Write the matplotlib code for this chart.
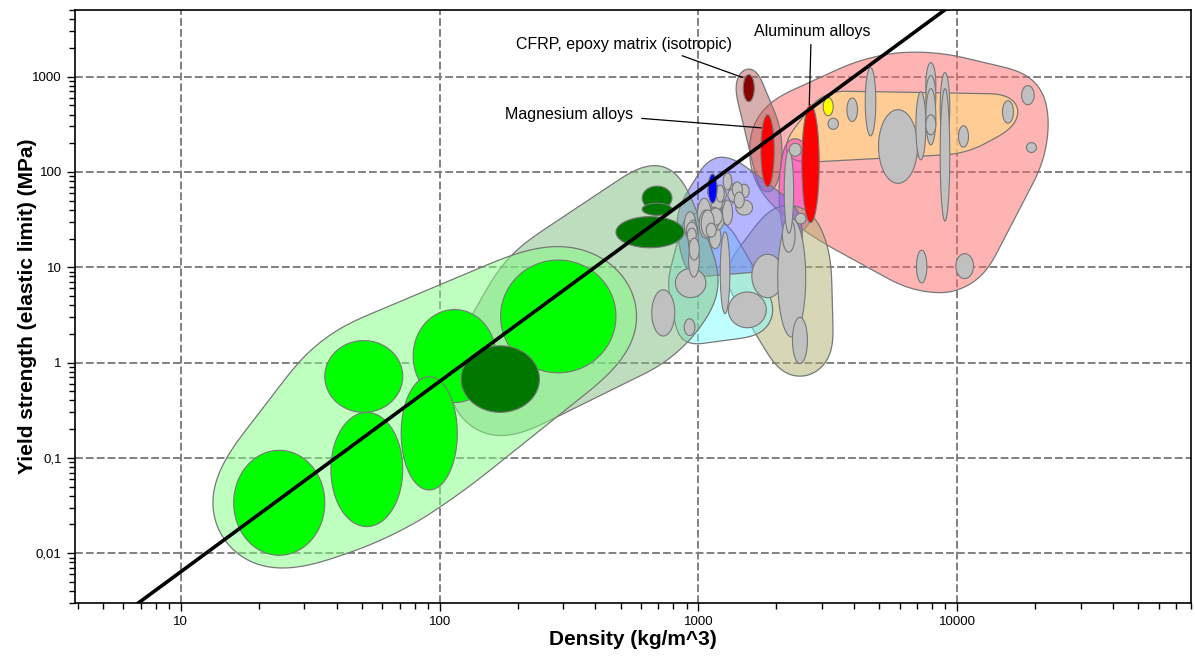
import numpy as np
import matplotlib.pyplot as plt
from matplotlib.colors import to_rgba
from matplotlib.ticker import LogLocator, NullFormatter

plt.rcParams['font.family'] = ['Liberation Sans', 'DejaVu Sans']

# each bubble: (density low, density high [kg/m^3], strength low, strength high [MPa])
foams = [(16, 36, 0.0095, 0.12), (36, 72, 0.30, 1.7), (38, 72, 0.019, 0.30),
         (79, 165, 0.38, 3.6), (71, 117, 0.046, 0.71), (172, 480, 0.78, 11.9)]
natural = [(121, 243, 0.30, 1.5), (480, 880, 16, 34), (606, 790, 40, 71),
           (606, 790, 35, 47)]
natural_grey = [(660, 810, 1.9, 5.8)]
polymers = [(992, 1118, 25.5, 52.9), (1101, 1221, 15.7, 27.7), (1101, 1258, 24.5, 41.8),
            (1239, 1354, 27.7, 50.7), (1247, 1345, 64.7, 97.5), (1315, 1458, 46.8, 76.0),
            (1395, 1618, 35.3, 50.7), (1130, 1258, 40.1, 55.5), (1084, 1222, 51.4, 73.8),
            (1438, 1571, 53.6, 74.2), (881, 977, 20.0, 38.2), (913, 998, 13.1, 31.3),
            (916, 1007, 7.9, 17.8), (1299, 1477, 48.3, 67.9), (1151, 1281, 48.3, 67.9),
            (1120, 1236, 39.8, 53.2), (1007, 1130, 20.2, 39.8), (897, 989, 19.2, 29.8),
            (1101, 1203, 24.5, 42.8), (1351, 1477, 54.6, 78.5), (1375, 1503, 41.8, 61.5),
            (1171, 1258, 48.3, 72.9), (1101, 1236, 27.7, 41.8), (1025, 1151, 20.7, 39.8),
            (1072, 1171, 20.7, 29.0), (905, 980, 18.3, 25.7), (921, 1007, 11.9, 20.2)]
pmma = (1090, 1180, 47, 95)
elastomers = [(814, 1068, 4.8, 9.7), (881, 969, 1.92, 2.88), (1214, 1322, 3.26, 23.5),
              (1304, 1828, 2.32, 5.5)]
porous_ceramics = [(1608, 2126, 4.79, 13.7), (2024, 2597, 1.85, 32.4),
                   (2111, 2361, 14.4, 32.8), (2308, 2637, 0.976, 2.98)]
glasses = [(2145, 2332, 22.8, 171), (2243, 2495, 146, 200), (2370, 2603, 28.5, 36.8)]
metals = [(4410, 4845, 239, 1244), (3747, 4118, 338, 597), (3167, 3474, 280, 366),
          (4963, 7020, 75.9, 450), (6920, 7560, 134, 695), (7560, 8265, 483, 1404),
          (7560, 8265, 353, 1025), (7560, 8265, 192, 748), (7560, 8265, 245, 398),
          (8590, 9355, 202, 1102), (8590, 9355, 30.5, 748), (10110, 11050, 182, 305),
          (14950, 16490, 325, 559), (17720, 19820, 507, 804), (18510, 20230, 160, 203),
          (6957, 7630, 6.85, 15.1), (9877, 11550, 7.6, 13.9)]
mg_alloys = (1742, 1963, 69.5, 398)
al_alloys = (2508, 2928, 29.3, 507)
cfrp = (1490, 1643, 546, 1050)
amc = (3034, 3316, 388, 601)

# guideline sigma ~ rho^2
guide_rho = [5, 10000]
guide_sigma = [0.0016, 6250]

x_ticks = [10, 100, 1000, 10000]
x_labels = ['10', '100', '1000', '10000']
y_ticks = [0.01, 0.1, 1, 10, 100, 1000]
y_labels = ['0,01', '0,1', '1', '10', '100', '1000']

SX, SY = 258.9, 95.0   # pixels per decade, used to round envelopes evenly


def ellipse(b, padx=0.0, pady=0.0, n=120):
    x0, x1, y0, y1 = np.log10(b)
    t = np.linspace(0, 2 * np.pi, n)
    cx, cy = (x0 + x1) / 2, (y0 + y1) / 2
    rx, ry = (x1 - x0) / 2 + padx, (y1 - y0) / 2 + pady
    return cx + rx * np.cos(t), cy + ry * np.sin(t)


def hull(p):
    p = sorted(map(tuple, p))
    def half(pts):
        h = []
        for q in pts:
            while len(h) >= 2 and ((h[-1][0] - h[-2][0]) * (q[1] - h[-2][1])
                                   - (h[-1][1] - h[-2][1]) * (q[0] - h[-2][0])) <= 0:
                h.pop()
            h.append(q)
        return h
    lo, up = half(p), half(p[::-1])
    return np.array(lo[:-1] + up[:-1])


def smooth(h, frac=0.08, n=400):
    # resample the hull evenly in screen-like units and round its corners
    q = np.column_stack([h[:, 0] * SX, h[:, 1] * SY])
    q = np.vstack([q, q[:1]])
    d = np.r_[0, np.cumsum(np.hypot(*np.diff(q, axis=0).T))]
    s = np.linspace(0, d[-1], n, endpoint=False)
    x, y = np.interp(s, d, q[:, 0]), np.interp(s, d, q[:, 1])
    w = max(3, int(frac * n))
    k = np.ones(w) / w
    xs = np.convolve(np.r_[x[-w:], x, x[:w]], k, 'same')[w:-w]
    ys = np.convolve(np.r_[y[-w:], y, y[:w]], k, 'same')[w:-w]
    return np.column_stack([xs / SX, ys / SY])


def envelope(ax, members, color, padx, pady, alpha=0.5, frac=0.08):
    pts = np.vstack([np.column_stack(ellipse(m, padx, pady)) for m in members])
    h = smooth(hull(pts), frac)
    ax.fill(10 ** h[:, 0], 10 ** h[:, 1], fc=to_rgba(color, alpha), ec='#777777',
            lw=0.9, zorder=2)


def bubble(ax, b, color):
    x, y = ellipse(b)
    ax.fill(10 ** x, 10 ** y, fc=color, ec='#777777', lw=0.8, zorder=3)


fig = plt.figure(figsize=(11.95, 6.57), dpi=100)
ax = fig.add_axes([75 / 1195, 54 / 657, 1116 / 1195, 593 / 657])
ax.set_xscale('log')
ax.set_yscale('log')
ax.set_xlim(3.9, 80000)
ax.set_ylim(0.003, 5000)

# envelopes
envelope(ax, metals + [mg_alloys, al_alloys, amc], '#ff6b6b', 0.05, 0.13)
envelope(ax, [amc, glasses[1], metals[1], metals[2], metals[11], metals[12]],
         '#ffdd81', 0.03, 0.07, 0.6)
envelope(ax, [cfrp, mg_alloys], '#b06060', 0.03, 0.08)
envelope(ax, glasses, '#ff30c8', 0.02, 0.06)
envelope(ax, porous_ceramics, '#b0b070', 0.1, 0.15)
envelope(ax, elastomers + [polymers[12], polymers[11]], '#80ffff', 0.03, 0.1)
envelope(ax, polymers[:12] + polymers[13:] + [pmma, porous_ceramics[2]], '#6a6aff', 0.03, 0.18)
envelope(ax, natural + natural_grey + [foams[5], elastomers[0]], '#7fba7f', 0.06, 0.28)
envelope(ax, foams, '#80ff80', 0.1, 0.18)

# bubbles
for b in foams:
    bubble(ax, b, '#00ff00')
for b in natural:
    bubble(ax, b, '#007800')
for b in natural_grey + elastomers + polymers + porous_ceramics + glasses + metals:
    bubble(ax, b, '#c0c0c0')
bubble(ax, pmma, '#0000ff')
bubble(ax, cfrp, '#8b0000')
bubble(ax, mg_alloys, '#ff0000')
bubble(ax, al_alloys, '#ff0000')
bubble(ax, amc, '#ffff00')

ax.plot(guide_rho, guide_sigma, color='black', lw=2.6, zorder=5)

ann = dict(fontsize=11.5, zorder=6)
ax.annotate('CFRP, epoxy matrix (isotropic)', xy=(1480, 980), xytext=(517, 2173),
            ha='center', va='center',
            arrowprops=dict(arrowstyle='-', lw=0.9, color='black', relpos=(0.72, 0),
                            shrinkA=2, shrinkB=0), **ann)
ax.annotate('Aluminum alloys', xy=(2680, 507), xytext=(2751, 2977),
            ha='center', va='center',
            arrowprops=dict(arrowstyle='-', lw=0.9, color='black', relpos=(0.49, 0),
                            shrinkA=2, shrinkB=0), **ann)
ax.annotate('Magnesium alloys', xy=(1749, 290), xytext=(317, 398),
            ha='center', va='center',
            arrowprops=dict(arrowstyle='-', lw=0.9, color='black', relpos=(1, 0.3),
                            shrinkA=4, shrinkB=0), **ann)

ax.set_xticks(x_ticks, x_labels)
ax.set_yticks(y_ticks, y_labels)
ax.xaxis.set_minor_locator(LogLocator(base=10, subs=np.arange(2, 10)))
ax.yaxis.set_minor_locator(LogLocator(base=10, subs=np.arange(2, 10), numticks=20))
ax.xaxis.set_minor_formatter(NullFormatter())
ax.yaxis.set_minor_formatter(NullFormatter())
ax.tick_params(which='both', direction='out', labelsize=9.5, width=1)
ax.tick_params(which='major', length=6)
ax.tick_params(which='minor', length=4)
ax.grid(True, which='major', color='#808080', ls=(0, (4, 1.6)), lw=1.4)
ax.set_axisbelow(True)
for s in ax.spines.values():
    s.set_linewidth(1.2)

ax.set_xlabel('Density (kg/m^3)', fontsize=15, fontweight='bold')
ax.set_ylabel('Yield strength (elastic limit) (MPa)', fontsize=15, fontweight='bold')
ax.xaxis.set_label_coords(0.5, -0.045)
ax.yaxis.set_label_coords(-0.034, 0.5)

fig.savefig('out.png', dpi=100)
